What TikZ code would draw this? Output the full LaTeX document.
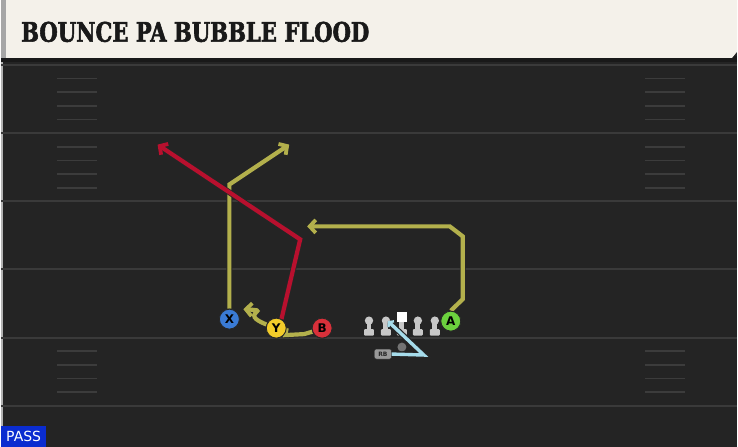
\documentclass[tikz,border=0pt]{standalone}
\usepackage{fontspec}
\setmainfont{DejaVu Sans}
\newfontfamily\titlefont{DejaVu Serif}[FakeStretch=0.785, FakeBold=2]
\usepackage{xcolor}
\usepackage{tikz}
\usetikzlibrary{positioning, calc, arrows.meta}

\definecolor{fieldbg}{HTML}{242424}
\definecolor{fieldline}{HTML}{3A3A3A}
\definecolor{hashcol}{HTML}{3C3C3C}
\definecolor{headbg}{HTML}{F4F1EA}
\definecolor{routeyel}{HTML}{B3B04C}
\definecolor{routered}{HTML}{B8102E}
\definecolor{routeblue}{HTML}{A6DCEB}
\definecolor{ycol}{HTML}{F2CC2A}
\definecolor{xcol}{HTML}{3A7BD5}
\definecolor{bcol}{HTML}{D8303A}
\definecolor{acol}{HTML}{6CD13E}
\definecolor{olcol}{HTML}{C8C8C8}
\definecolor{passcol}{HTML}{0A2CD0}

\tikzset{
    player/.style = {draw = black!85, line width = 0.9pt, circle,
        minimum size = 20pt, inner sep = 0pt, font = \bfseries\fontsize{12}{12}\selectfont},
    route/.style = {line width = 4.2pt, line join = miter,
        preaction = {draw = black!85, line width = 5.8pt},
        -{Straight Barb[length = 6pt, width = 13pt, line width = 3.8pt]}},
    hash/.style = {hashcol, line width = 1.6pt},
    yardline/.style = {fieldline, line width = 2pt}
}

\begin{document}
\begin{tikzpicture}[x = 1pt, y = -1pt]
        % field and header
        \fill [fieldbg] (0,0) rectangle (738,448);
        \fill [black!90] (0,56) rectangle (738,62);
        \fill [headbg] (0,0) -- (738,0) -- (738,52) -- (733,58) -- (0,58) -- cycle;
        \fill [black!35] (0,0) rectangle (5,58);
        \fill [black!30] (0,62) rectangle (2,448);
        \node [anchor = west, inner sep = 0pt, text = black!90,
        font = \titlefont\bfseries\fontsize{27}{27}\selectfont] (title) at (20,32)
        {BOUNCE PA BUBBLE FLOOD};
        \foreach \ly in {65, 133.5, 202, 270, 338.5, 407}
            \draw [yardline] (0,\ly) -- (738,\ly);
        \foreach \ly in {65, 133.5, 338.5}
            \foreach \k in {1,...,4} {
                \draw [hash] (56,\ly + 13.7*\k) -- (96,\ly + 13.7*\k);
                \draw [hash] (646,\ly + 13.7*\k) -- (686,\ly + 13.7*\k);
            }

        % line and backfield
        \foreach \lx in {369, 386, 402, 418, 435} {
            \fill [olcol] (\lx - 2.5,323) rectangle (\lx + 2.5,331);
            \fill [olcol, rounded corners = 1pt] (\lx - 5,330) rectangle (\lx + 5,336.5);
        }
        \foreach \lx in {369, 386, 418, 435}
            \fill [olcol] (\lx,321.5) circle (4.2);
        \fill [white] (397,313) rectangle (407,323);
        \node [circle, fill = black!55, minimum size = 9pt, inner sep = 0pt] (QB) at (402,348) {};
        \node [draw = black!80, fill = black!40, rounded corners = 2pt, minimum width = 17pt,
        minimum height = 10pt, inner sep = 0pt, font = \bfseries\fontsize{6}{6}\selectfont,
        text = black!85] (RB) at (383,355) {RB};

        % players
        \node [player, fill = xcol] (X) at (229,320) {X};
        \node [player, fill = ycol] (Y) at (276,329) {Y};
        \node [player, fill = bcol] (B) at (322,329) {B};
        \node [player, fill = acol] (A) at (451,322) {A};
        \coordinate (xend) at (289,145);
        \coordinate (redend) at (157,145);
        \coordinate (aend) at (307,227);
        \coordinate (bubend) at (243,310);
        \coordinate (handoff) at (388,322);

        % routes
        \draw [route, routeyel] (X.north) -- (229,185) -- (xend);
        \draw [route, routered] (Y.60) -- (300,240) -- (redend);
        \draw [route, routeyel] (A.north) -- (463,300) -- (463,237) -- (450,227) -- (aend);
        \draw [route, routeyel, -] (B.200) -- (304,335) -- (285,336) -- (Y.east);
        \draw [route, routeyel] (Y.160) .. controls (258,322) and (250,318) .. (256,313)
        .. controls (258,311) .. (bubend);
        \draw [route, routeblue, preaction = {draw = none}, line width = 3.4pt,
        -{Straight Barb[length = 3pt, width = 8pt, line width = 2.4pt]}]
        (RB.east) -- (424,356) -- (handoff);

        % redraw players over routes
        \node [player, fill = xcol] at (X) {X};
        \node [player, fill = ycol] at (Y) {Y};
        \node [player, fill = bcol] at (B) {B};
        \node [player, fill = acol] at (A) {A};

        \node [fill = passcol, text = white, anchor = south west, minimum width = 45pt,
        minimum height = 21pt, inner sep = 0pt, font = \fontsize{14}{14}\selectfont]
        (pass) at (0,448) {PASS};
\end{tikzpicture}
\end{document}
